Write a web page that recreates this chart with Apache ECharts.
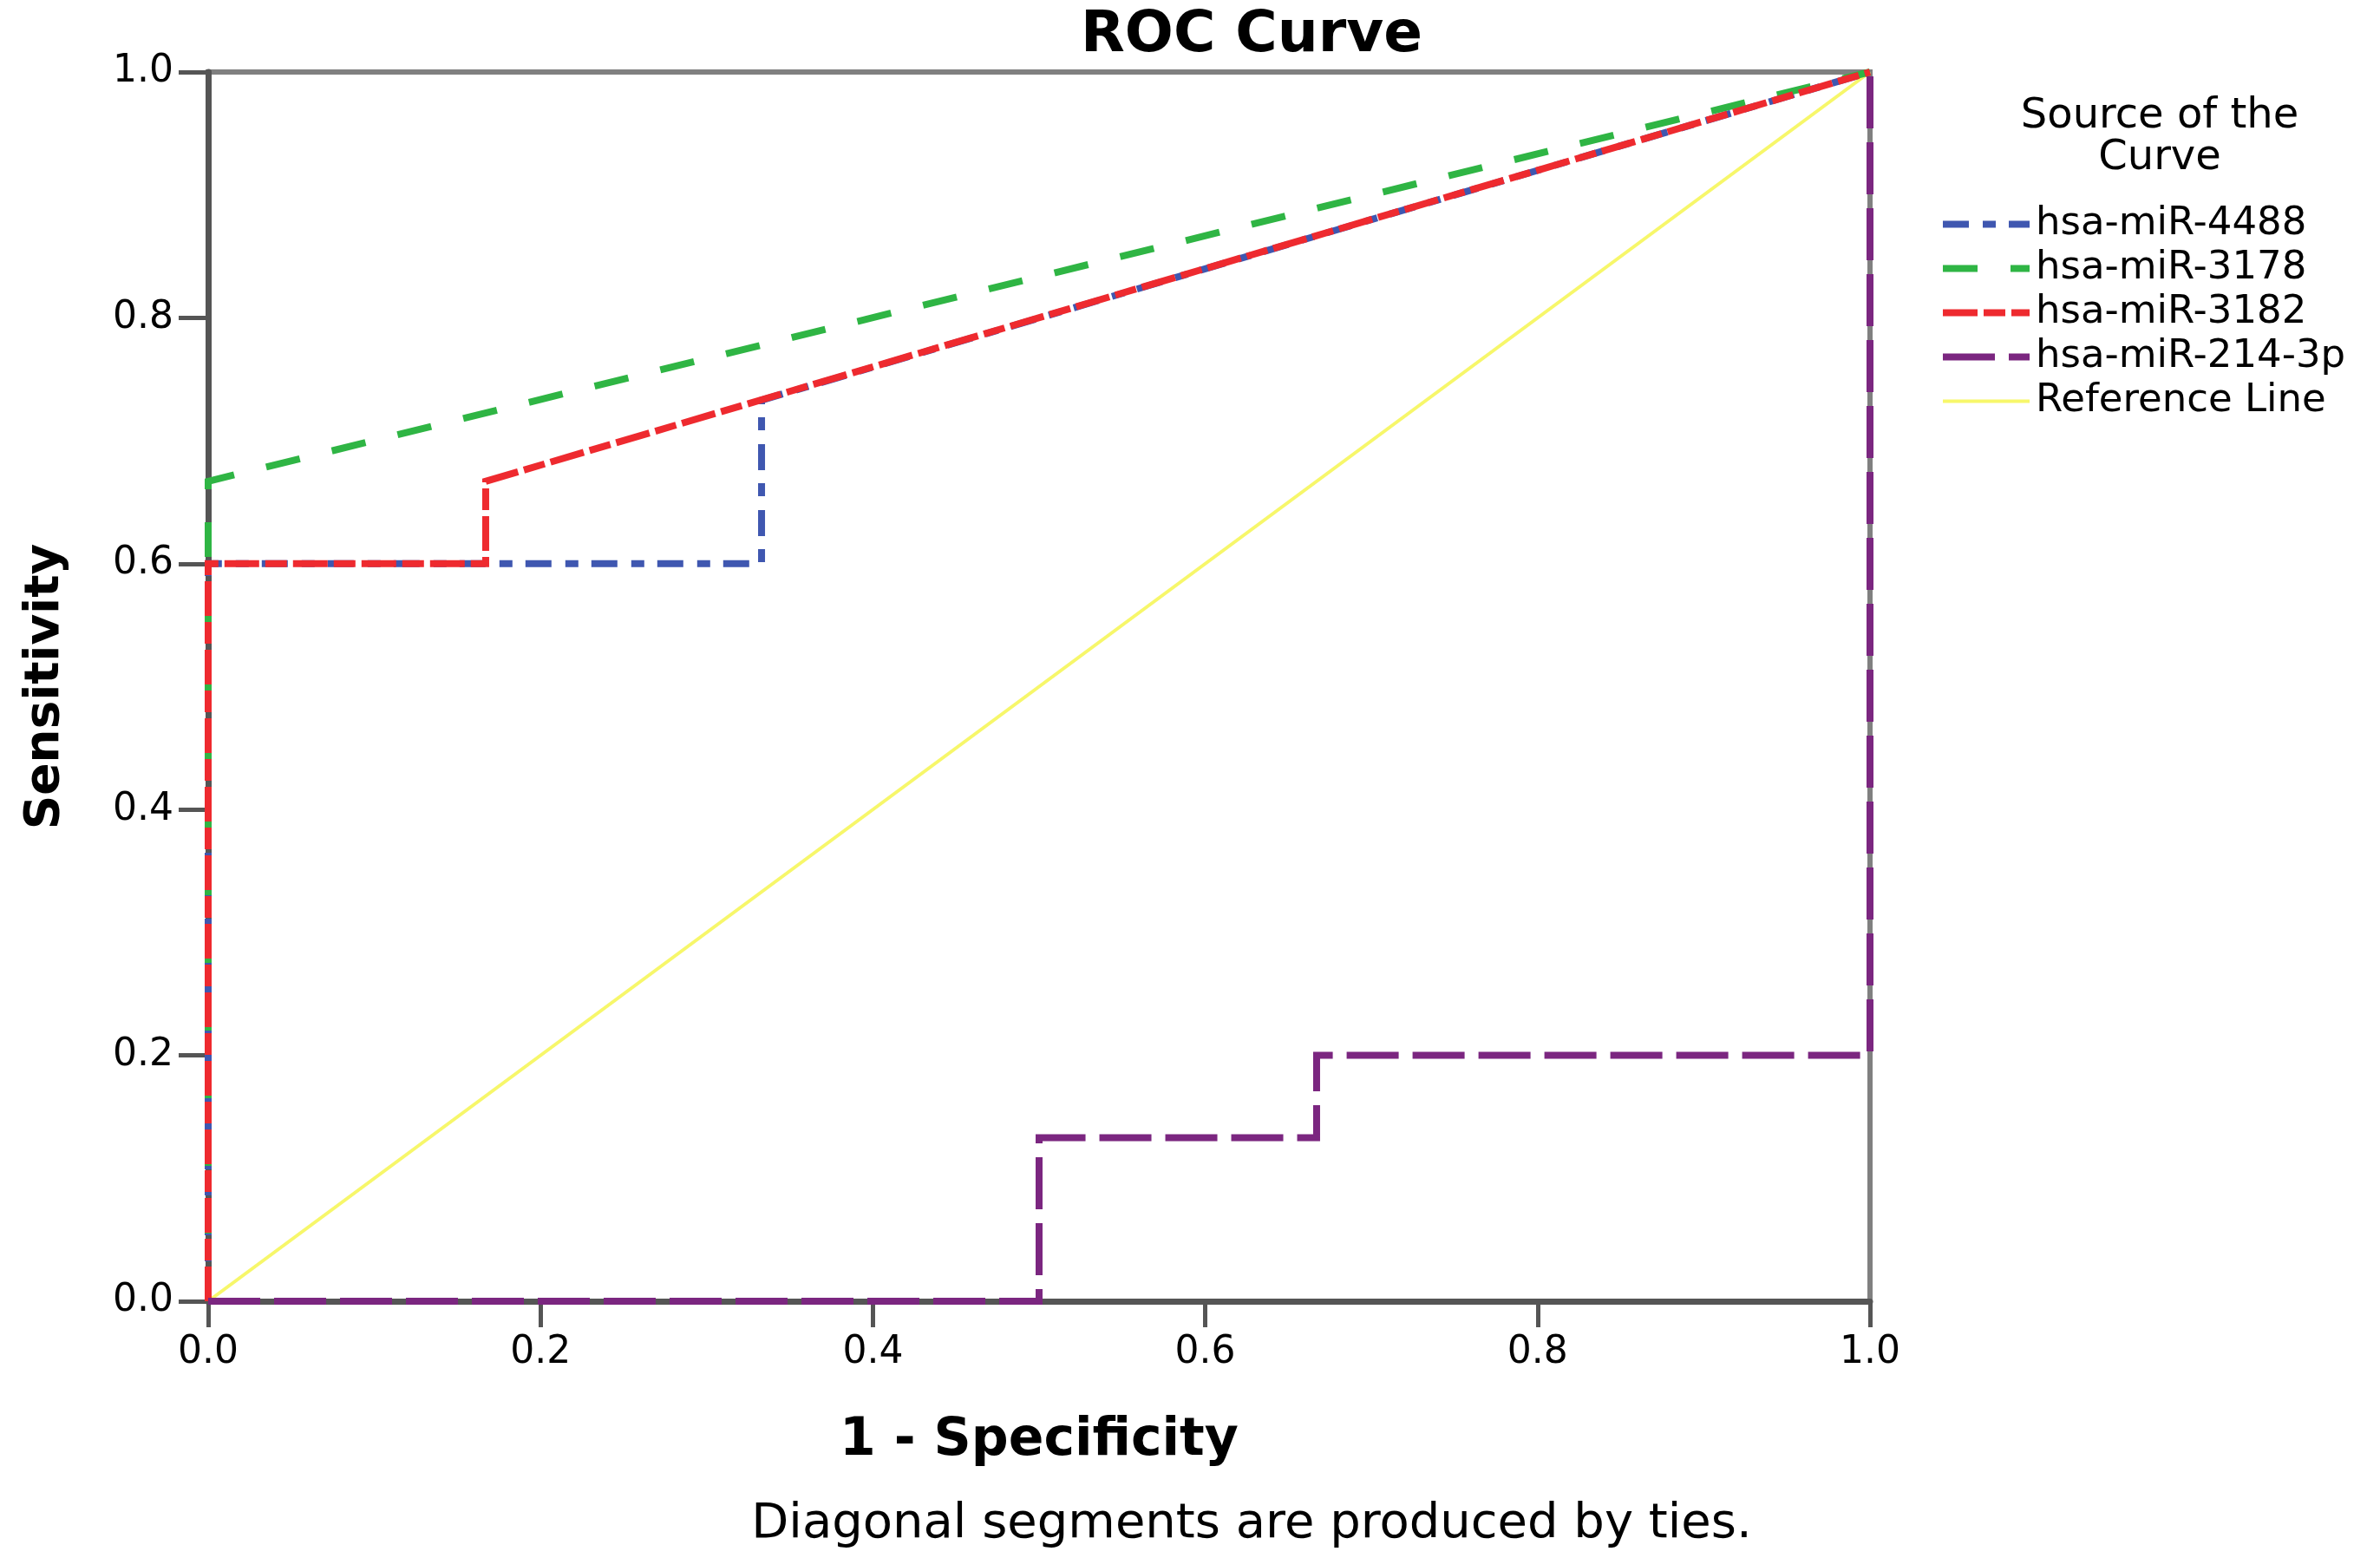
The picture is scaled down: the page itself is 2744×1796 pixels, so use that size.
<!DOCTYPE html>
<html>
<head>
<meta charset="utf-8">
<title>ROC Curve</title>
<script src="https://cdn.jsdelivr.net/npm/echarts@6/dist/echarts.min.js"></script>
<style>
    html, body { margin: 0; padding: 0; background: #fff; }
    #roc-curve { width: 2744px; height: 1796px; }
</style>
</head>
<body>
<div id="roc-curve"></div>
<script>
// values: 1 - specificity (x) and sensitivity (y)
var names = ['hsa-miR-4488', 'hsa-miR-3178', 'hsa-miR-3182', 'hsa-miR-214-3p', 'Reference Line'];

var x_4488 = [0, 0, 0.333, 0.333, 1];
var y_4488 = [0, 0.6, 0.6, 0.733, 1];

var x_3178 = [0, 0, 1];
var y_3178 = [0, 0.667, 1];

var x_3182 = [0, 0, 0.167, 0.167, 1];
var y_3182 = [0, 0.6, 0.6, 0.667, 1];

var x_214 = [0, 0.5, 0.5, 0.667, 0.667, 1, 1];
var y_214 = [0, 0, 0.133, 0.133, 0.2, 0.2, 1];

var x_ref = [0, 1];
var y_ref = [0, 1];

function zip(xs, ys) {
    var out = [];
    for (var i = 0; i < xs.length; i++)
        out.push([xs[i], ys[i]]);
    return out;
}

function roc_series(name, xs, ys, color, width, dash, z) {
    return {
        name: name,
        type: 'line',
        data: zip(xs, ys),
        symbol: 'none',
        clip: false,
        z: z,
        lineStyle: {
            color: color,
            width: width,
            type: dash,
            cap: 'butt',
            join: 'miter'
        },
        itemStyle: { color: color }
    };
}

var font = 'DejaVu Sans';

var chart = echarts.init(document.getElementById('roc-curve'));

var option = {
    backgroundColor: '#ffffff',
    animation: false,
    title: [{
        text: 'ROC Curve',
        left: 1438,
        top: 4,
        textAlign: 'center',
        textStyle: { fontFamily: font, fontWeight: 'bold', fontSize: 66, color: '#000' }
    }, {
        // legend heading
        text: 'Source of the\nCurve',
        left: 2485,
        top: 106,
        textAlign: 'center',
        textStyle: { fontFamily: font, fontWeight: 'normal', fontSize: 48, lineHeight: 48, color: '#000' }
    }, {
        text: 'Diagonal segments are produced by ties.',
        left: 1438,
        top: 1724,
        textAlign: 'center',
        textStyle: { fontFamily: font, fontWeight: 'normal', fontSize: 56, color: '#000' }
    }],
    legend: {
        data: names,
        orient: 'vertical',
        left: 2236,
        top: 233,
        padding: 0,
        itemGap: 0,
        itemWidth: 100,
        itemHeight: 16,
        selectedMode: false,
        itemStyle: { opacity: 0 },
        lineStyle: { width: 'inherit' },
        textStyle: { fontFamily: font, fontSize: 45, lineHeight: 51, color: '#000', padding: [0, 0, 0, 2] }
    },
    grid: {
        left: 240,
        right: 588,
        top: 83,
        bottom: 296,
        show: true,
        borderColor: '#808080',
        borderWidth: 6,
        backgroundColor: 'transparent'
    },
    xAxis: {
        type: 'value',
        min: 0,
        max: 1,
        interval: 0.2,
        name: '1 - Specificity',
        nameLocation: 'middle',
        nameGap: 131,
        nameTextStyle: { fontFamily: font, fontWeight: 'bold', fontSize: 60, color: '#000' },
        axisLine: { show: true, lineStyle: { color: '#555', width: 7 } },
        axisTick: { show: true, length: 30, lineStyle: { color: '#555', width: 5 } },
        axisLabel: {
            margin: 38,
            fontFamily: font,
            fontSize: 44,
            color: '#000',
            formatter: function (v) { return v.toFixed(1); }
        },
        splitLine: { show: false }
    },
    yAxis: {
        type: 'value',
        min: 0,
        max: 1,
        interval: 0.2,
        name: 'Sensitivity',
        nameLocation: 'middle',
        nameGap: 160,
        nameTextStyle: { fontFamily: font, fontWeight: 'bold', fontSize: 55, color: '#000' },
        axisLine: { show: true, lineStyle: { color: '#555', width: 7 } },
        axisTick: { show: true, length: 34, lineStyle: { color: '#555', width: 5 } },
        axisLabel: {
            margin: 40,
            fontFamily: font,
            fontSize: 44,
            color: '#000',
            formatter: function (v) { return v.toFixed(1); }
        },
        splitLine: { show: false }
    },
    series: [
        roc_series(names[4], x_ref, y_ref, '#f7f76a', 4, 'solid', 2),
        roc_series(names[0], x_4488, y_4488, '#3f57b0', 8, [30, 16, 15, 15], 3),
        roc_series(names[1], x_3178, y_3178, '#2fb544', 8, [40, 38], 3),
        roc_series(names[2], x_3182, y_3182, '#ee2a2f', 8, [40, 7, 25, 7], 4),
        roc_series(names[3], x_214, y_214, '#7b2680', 8, [60, 16], 5)
    ]
};

chart.setOption(option);
</script>
</body>
</html>
